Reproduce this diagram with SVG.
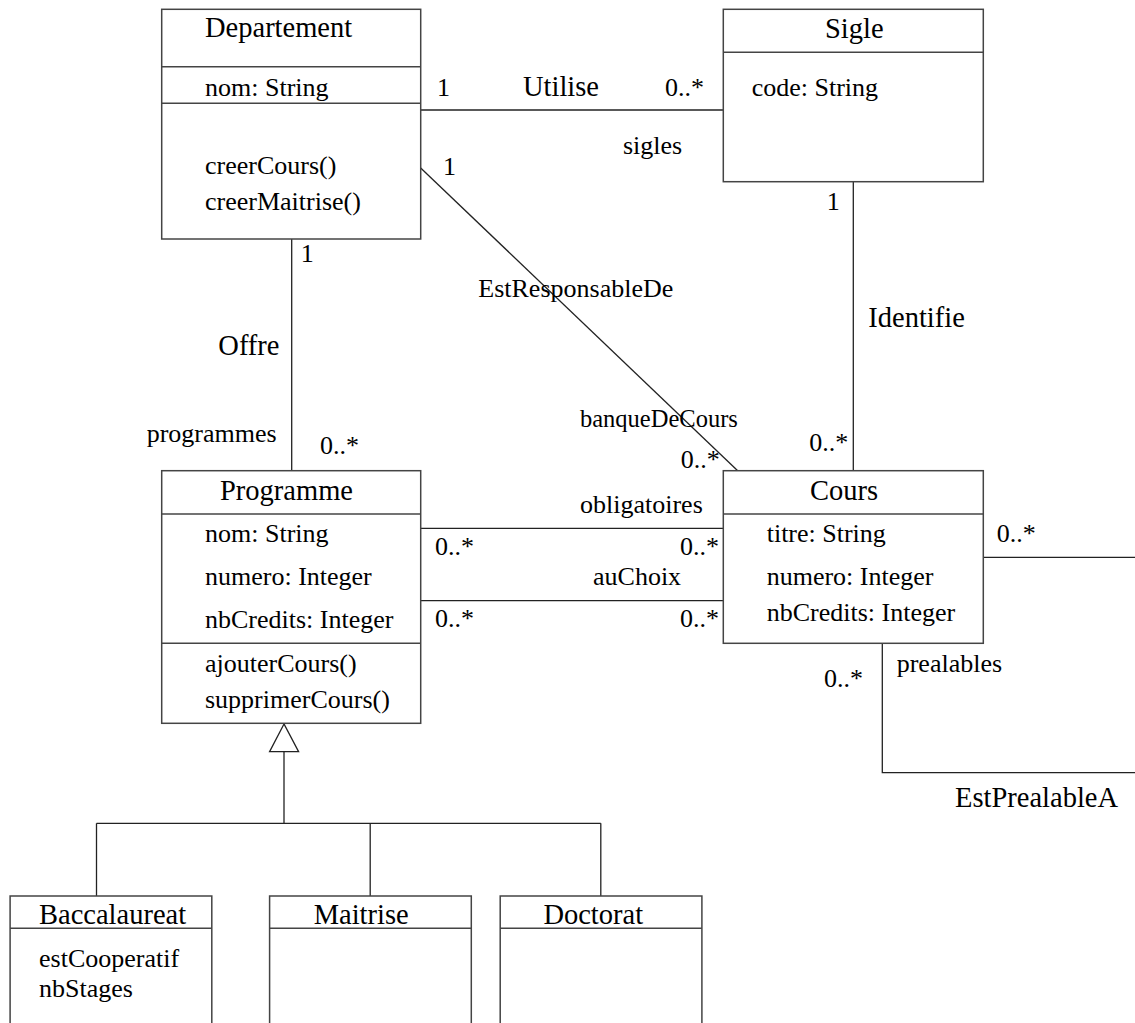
<svg xmlns="http://www.w3.org/2000/svg" width="1135" height="1023" viewBox="0 0 1135 1023">
<style>
.box{fill:#fff;stroke:#444;stroke-width:1.5}
.div{stroke:#444;stroke-width:1.5}
.ln{fill:none;stroke:#222;stroke-width:1.3}
text{font-family:"Liberation Serif","Times New Roman",serif;fill:#000}
.t{font-size:28.5px}
.a{font-size:26px}
.l{font-size:26px}
.n{font-size:28.5px}
</style>
<rect width="1135" height="1023" fill="#fff"/>
<g id="connectors">
<line class="ln" x1="420.7" y1="110" x2="723.3" y2="110"/>
<line class="ln" x1="420.7" y1="168" x2="737.7" y2="470.7"/>
<line class="ln" x1="291.7" y1="239" x2="291.7" y2="470.7"/>
<line class="ln" x1="853.3" y1="181.7" x2="853.3" y2="470.7"/>
<line class="ln" x1="420.7" y1="528.3" x2="723.3" y2="528.3"/>
<line class="ln" x1="420.7" y1="600.7" x2="723.3" y2="600.7"/>
<polyline class="ln" points="983.3,557.3 1140,557.3 1140,772.7 882.3,772.7 882.3,643.3"/>
<polygon class="ln" points="284,724 269.6,751.7 298.6,751.7" style="fill:#fff"/>
<line class="ln" x1="284" y1="751.7" x2="284" y2="823.3"/>
<line class="ln" x1="96.5" y1="823.3" x2="600.8" y2="823.3"/>
<line class="ln" x1="96.5" y1="823.3" x2="96.5" y2="896"/>
<line class="ln" x1="370.2" y1="823.3" x2="370.2" y2="896"/>
<line class="ln" x1="600.8" y1="823.3" x2="600.8" y2="896"/>
<text class="l" x="437" y="96">1</text>
<text class="n" x="523" y="96">Utilise</text>
<text class="l" x="665" y="96">0..*</text>
<text class="l" x="623" y="154">sigles</text>
<text class="l" x="443" y="175">1</text>
<text class="l" x="826.7" y="210">1</text>
<text class="n" x="868.3" y="327">Identifie</text>
<text class="l" x="809.3" y="451">0..*</text>
<text class="l" x="300.7" y="262">1</text>
<text class="n" x="218.3" y="355">Offre</text>
<text class="l" x="146.7" y="442">programmes</text>
<text class="l" x="320" y="454">0..*</text>
<text class="l" x="478.3" y="297">EstResponsableDe</text>
<text class="l" x="580" y="427" style="font-size:24.5px">banqueDeCours</text>
<text class="l" x="680.7" y="468">0..*</text>
<text class="l" x="580" y="513">obligatoires</text>
<text class="l" x="435" y="555">0..*</text>
<text class="l" x="680" y="555">0..*</text>
<text class="l" x="593" y="585">auChoix</text>
<text class="l" x="435" y="627">0..*</text>
<text class="l" x="680" y="627">0..*</text>
<text class="l" x="996.7" y="542">0..*</text>
<text class="l" x="896.7" y="672">prealables</text>
<text class="l" x="824" y="687">0..*</text>
<text class="n" x="955" y="807">EstPrealableA</text>
</g>
<g id="departement">
<rect class="box" x="161.7" y="9.3" width="259" height="229.7"/>
<line class="div" x1="161.7" y1="66.7" x2="420.7" y2="66.7"/>
<line class="div" x1="161.7" y1="103.3" x2="420.7" y2="103.3"/>
<text class="t" x="205" y="37">Departement</text>
<text class="a" x="205" y="96">nom: String</text>
<text class="a" x="205" y="174">creerCours()</text>
<text class="a" x="205" y="210">creerMaitrise()</text>
</g>
<g id="sigle">
<rect class="box" x="723.3" y="9.3" width="260" height="172.4"/>
<line class="div" x1="723.3" y1="52.3" x2="983.3" y2="52.3"/>
<text class="t" x="825" y="38">Sigle</text>
<text class="a" x="751.7" y="96">code: String</text>
</g>
<g id="programme">
<rect class="box" x="161.7" y="470.7" width="259" height="252.6"/>
<line class="div" x1="161.7" y1="514" x2="420.7" y2="514"/>
<line class="div" x1="161.7" y1="643.3" x2="420.7" y2="643.3"/>
<text class="t" x="220" y="500">Programme</text>
<text class="a" x="205" y="542">nom: String</text>
<text class="a" x="205" y="585">numero: Integer</text>
<text class="a" x="205" y="628">nbCredits: Integer</text>
<text class="a" x="205" y="672">ajouterCours()</text>
<text class="a" x="205" y="708">supprimerCours()</text>
</g>
<g id="cours">
<rect class="box" x="723.3" y="470.7" width="260" height="172.6"/>
<line class="div" x1="723.3" y1="514" x2="983.3" y2="514"/>
<text class="t" x="810" y="500">Cours</text>
<text class="a" x="766.7" y="542">titre: String</text>
<text class="a" x="766.7" y="585">numero: Integer</text>
<text class="a" x="766.7" y="621">nbCredits: Integer</text>
</g>
<g id="baccalaureat">
<rect class="box" x="10.1" y="896" width="201.7" height="140"/>
<line class="div" x1="10.1" y1="928.3" x2="211.8" y2="928.3"/>
<text class="t" x="39" y="924">Baccalaureat</text>
<text class="a" x="39" y="967">estCooperatif</text>
<text class="a" x="39" y="997">nbStages</text>
</g>
<g id="maitrise">
<rect class="box" x="269.6" y="896" width="201.7" height="140"/>
<line class="div" x1="269.6" y1="928.3" x2="471.3" y2="928.3"/>
<text class="t" x="313.7" y="924">Maitrise</text>
</g>
<g id="doctorat">
<rect class="box" x="500.2" y="896" width="201.7" height="140"/>
<line class="div" x1="500.2" y1="928.3" x2="701.9" y2="928.3"/>
<text class="t" x="543.4" y="924">Doctorat</text>
</g>
</svg>
